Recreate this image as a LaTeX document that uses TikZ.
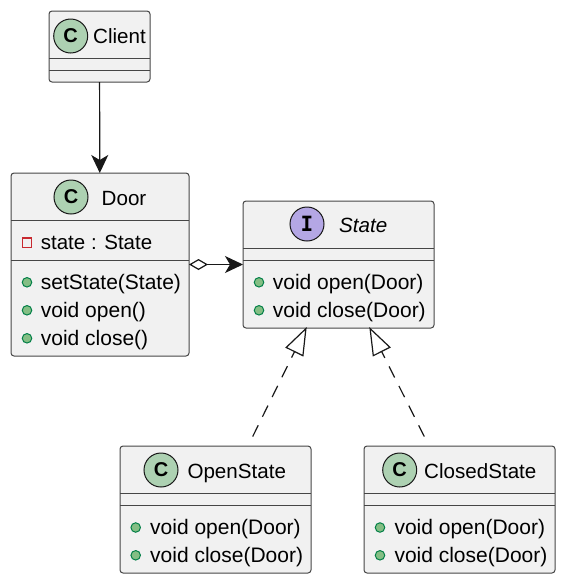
\documentclass[tikz,border=0pt]{standalone}
\usepackage{fontspec}
\setmainfont{Liberation Sans}
\setmonofont{DejaVu Sans Mono}
\usetikzlibrary{arrows.meta,calc}
\definecolor{boxfill}{HTML}{F1F1F1}
\definecolor{boxline}{HTML}{181818}
\definecolor{classfill}{HTML}{ADD1B2}
\definecolor{ifacefill}{HTML}{B4A7E5}
\definecolor{pubfill}{HTML}{84BE84}
\definecolor{publine}{HTML}{038048}
\definecolor{privline}{HTML}{C82930}
\tikzstyle{umlbox} = [draw=boxline!80, rectangle, rounded corners=3pt, fill=boxfill, line width=1pt,
    inner sep=0pt, outer sep=0pt]
\tikzstyle{badge} = [draw=boxline, circle, line width=1pt, minimum size=34pt, inner sep=0pt,
    font=\fontsize{20}{20}\selectfont\bfseries]
\tikzstyle{title} = [anchor=base west, inner sep=0pt, font=\fontsize{20.6}{24}\selectfont, text=black]
\tikzstyle{member} = [anchor=base west, inner sep=0pt, font=\fontsize{21}{24}\selectfont, text=black]
\tikzstyle{pubdot} = [draw=publine, fill=pubfill, circle, line width=1pt, minimum size=9.5pt, inner sep=0pt]
\tikzstyle{privbox} = [draw=privline, rectangle, line width=1.2pt, minimum size=9.5pt, inner sep=0pt]
\tikzstyle{sep} = [draw=boxline!80, line width=1pt]
\tikzstyle{arr} = [draw=boxline, line width=1.2pt]
\tikzstyle{impl} = [draw=boxline, line width=1.2pt, dash pattern=on 12.5pt off 9.5pt]
\begin{document}
\begin{tikzpicture}[x=1pt,y=-1pt]
    \useasboundingbox (0,0) rectangle (564,582);

    % Client
    \node [umlbox, minimum width=101pt, minimum height=71pt] (client) at (99.5,46.5) {};
    \node [badge, fill=classfill] (client_badge) at (70.7,36) {C};
    \node [title] (client_title) at (93,43) {Client};
    \draw [sep] ($(client.north west)+(0,47)$) -- ($(client.north east)+(0,47)$);
    \draw [sep] ($(client.north west)+(0,59)$) -- ($(client.north east)+(0,59)$);

    % Door
    \node [umlbox, minimum width=178pt, minimum height=183pt] (door) at (100,264.5) {};
    \node [badge, fill=classfill] (door_badge) at (71,197) {C};
    \node [title] (door_title) at (101.5,205) {Door};
    \draw [sep] ($(door.north west)+(0,47)$) -- ($(door.north east)+(0,47)$);
    \draw [sep] ($(door.north west)+(0,87)$) -- ($(door.north east)+(0,87)$);
    \node [privbox] (door_m1) at (27,242.7) {};
    \node [member, font=\fontsize{20.5}{24}\selectfont] (door_t1) at (40.7,249) {state : State};
    \node [pubdot] (door_m2) at (27,282.3) {};
    \node [member] (door_t2) at (40.7,289) {setState(State)};
    \node [pubdot] (door_m3) at (27,310.3) {};
    \node [member] (door_t3) at (40.7,317) {void open()};
    \node [pubdot] (door_m4) at (27,338.3) {};
    \node [member] (door_t4) at (40.7,345) {void close()};

    % State
    \node [umlbox, minimum width=191pt, minimum height=127pt] (state) at (338.5,264.5) {};
    \node [badge, fill=ifacefill, font=\fontsize{21}{21}\ttfamily\bfseries] (state_badge) at (307,224) {I};
    \node [title, font=\fontsize{20.6}{24}\selectfont\itshape] (state_title) at (339,232) {State};
    \draw [sep] ($(state.north west)+(0,47)$) -- ($(state.north east)+(0,47)$);
    \draw [sep] ($(state.north west)+(0,59)$) -- ($(state.north east)+(0,59)$);
    \node [pubdot] (state_m1) at (259,282.3) {};
    \node [member] (state_t1) at (272.7,289) {void open(Door)};
    \node [pubdot] (state_m2) at (259,310.3) {};
    \node [member] (state_t2) at (272.7,317) {void close(Door)};

    % OpenState
    \node [umlbox, minimum width=191pt, minimum height=127pt] (open) at (215.5,509.5) {};
    \node [badge, fill=classfill] (open_badge) at (161,470) {C};
    \node [title] (open_title) at (187.3,478) {OpenState};
    \draw [sep] ($(open.north west)+(0,47)$) -- ($(open.north east)+(0,47)$);
    \draw [sep] ($(open.north west)+(0,59)$) -- ($(open.north east)+(0,59)$);
    \node [pubdot] (open_m1) at (135.7,527.5) {};
    \node [member] (open_t1) at (150,534) {void open(Door)};
    \node [pubdot] (open_m2) at (135.7,555.3) {};
    \node [member] (open_t2) at (150,562) {void close(Door)};

    % ClosedState
    \node [umlbox, minimum width=191pt, minimum height=127pt] (closed) at (459.5,509.5) {};
    \node [badge, fill=classfill] (closed_badge) at (399.7,470) {C};
    \node [title] (closed_title) at (424,478) {ClosedState};
    \draw [sep] ($(closed.north west)+(0,47)$) -- ($(closed.north east)+(0,47)$);
    \draw [sep] ($(closed.north west)+(0,59)$) -- ($(closed.north east)+(0,59)$);
    \node [pubdot] (closed_m1) at (380,527.5) {};
    \node [member] (closed_t1) at (394.3,534) {void open(Door)};
    \node [pubdot] (closed_m2) at (380,555.3) {};
    \node [member] (closed_t2) at (394.3,562) {void close(Door)};

    % connectors
    \draw [arr, -{Stealth[length=18pt,width=17pt,inset=5pt]}] (client) -- (door);
    \draw [arr, {Diamond[open,length=19pt,width=11pt,fill=white]}-{Stealth[length=18pt,width=17pt,inset=5pt]}] (door) -- (state);

    \coordinate (open_tail) at (252.7,436.5);
    \coordinate (open_tip) at (306.7,327);
    \coordinate (closed_tail) at (424.3,436.5);
    \coordinate (closed_tip) at (369.3,327);
    \draw [impl, -{Triangle[open,length=28pt,width=20pt,fill=white]}] (open_tail) -- (open_tip);
    \draw [impl, -{Triangle[open,length=28pt,width=20pt,fill=white]}] (closed_tail) -- (closed_tip);
\end{tikzpicture}
\end{document}
